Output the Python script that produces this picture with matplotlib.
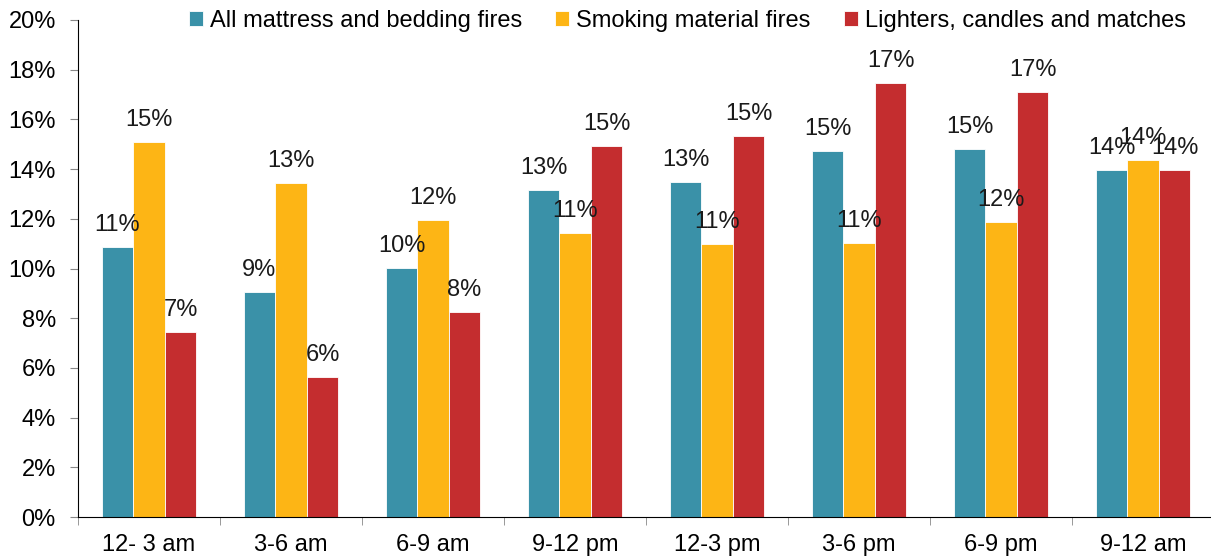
import numpy as np
import matplotlib.pyplot as plt
from matplotlib.ticker import FixedLocator, PercentFormatter

plt.rcParams['font.family'] = ['Liberation Sans', 'DejaVu Sans']

# time-of-day periods and shares (%)
periods = ["12- 3 am", "3-6 am", "6-9 am", "9-12 pm", "12-3 pm", "3-6 pm", "6-9 pm", "9-12 am"]
bedding = [10.87, 9.05, 10.02, 13.16, 13.48, 14.73, 14.81, 13.96]
smoking = [15.09, 13.44, 11.95, 11.43, 10.99, 11.03, 11.87, 14.37]
lighters = [7.44, 5.63, 8.25, 14.93, 15.33, 17.47, 17.10, 13.96]

names = ["All mattress and bedding fires", "Smoking material fires", "Lighters, candles and matches"]
colors = ["#3A91A8", "#FDB515", "#C42D2F"]

fig = plt.figure(figsize=(12.11, 5.59), dpi=100)
ax = fig.add_axes([78/1211, 42/559, 1136/1211, 497/559])

x = np.arange(len(periods))
w = 0.222
fs = 17
for i, (vals, name, c) in enumerate(zip([bedding, smoking, lighters], names, colors)):
    bars = ax.bar(x + (i - 1) * w, vals, w, color=c, label=name,
                  edgecolor="white", linewidth=0.6)
    for b, v in zip(bars, vals):
        ax.annotate(f"{v:.0f}%", (b.get_x() + b.get_width() / 2, v),
                    xytext=(0, 8), textcoords="offset points",
                    ha="center", va="bottom", fontsize=fs, color="#1a1a1a")

ax.set_xlim(-0.5, len(periods) - 0.5)
ax.set_ylim(0, 20)
ax.set_yticks(np.arange(0, 21, 2))
ax.yaxis.set_major_formatter(PercentFormatter(decimals=0))
ax.set_xticks(x)
ax.set_xticklabels(periods)
ax.xaxis.set_minor_locator(FixedLocator(np.arange(-0.5, len(periods), 1)))
ax.tick_params(axis="x", which="major", length=0, pad=12, labelsize=fs)
ax.tick_params(axis="x", which="minor", length=6, color="#888888", direction="out")
ax.tick_params(axis="y", length=6, color="#888888", labelsize=fs, pad=10)

for s in ["top", "right"]:
    ax.spines[s].set_visible(False)
ax.spines["left"].set_color("black")
ax.spines["bottom"].set_color("black")

fig.legend(loc="upper right", bbox_to_anchor=(0.997, 1.02), ncol=3, frameon=False,
           fontsize=fs, handlelength=0.6, handleheight=0.6, handletextpad=0.3,
           columnspacing=1.4)

fig.savefig("out.png", dpi=100)
